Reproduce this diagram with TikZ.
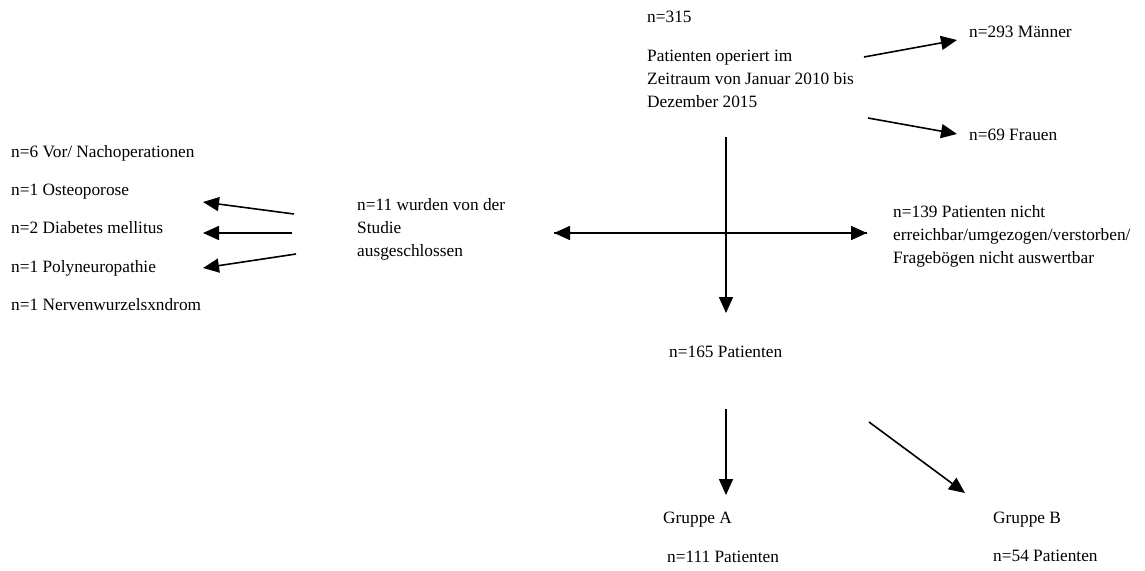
\documentclass[tikz,border=0pt]{standalone}
\usepackage{fontspec}
\setmainfont{Liberation Serif}
\usetikzlibrary{arrows.meta}

\tikzset{
  txt/.style={anchor=base west, inner sep=0pt, align=left,
    font=\fontsize{17.3}{22.8}\selectfont},
  arr/.style={line width=1.6pt, -{Triangle[length=16pt, width=14pt]}}
}

\begin{document}
\begin{tikzpicture}[x=1pt, y=-1pt]
    \useasboundingbox (0, 0) rectangle (1145, 570);

    \node[txt] (total) at (647, 23) {n=315};
    \node[txt] (zeitraum) at (647, 107)
      {Patienten operiert im\\Zeitraum von Januar 2010 bis\\Dezember 2015};
    \node[txt] (maenner) at (969, 37) {n=293 Männer};
    \node[txt] (frauen) at (969, 140) {n=69 Frauen};

    \node[txt] (ausgeschl) at (357, 256)
      {n=11 wurden von der\\Studie\\ausgeschlossen};
    \node[txt] (nicht) at (893, 263)
      {n=139 Patienten nicht\\erreichbar/umgezogen/verstorben/\\Fragebögen nicht auswertbar};

    \node[txt] (vorop) at (11, 157) {n=6 Vor/ Nachoperationen};
    \node[txt] (osteo) at (11, 195) {n=1 Osteoporose};
    \node[txt] (diab) at (11, 233) {n=2 Diabetes mellitus};
    \node[txt] (poly) at (11, 272) {n=1 Polyneuropathie};
    \node[txt] (nerv) at (11, 310) {n=1 Nervenwurzelsxndrom};

    \node[txt] (pat165) at (669, 357) {n=165 Patienten};
    \node[txt] (grA) at (663, 523) {Gruppe A};
    \node[txt] (grAn) at (667, 562) {n=111 Patienten};
    \node[txt] (grB) at (993, 523) {Gruppe B};
    \node[txt] (grBn) at (993, 561) {n=54 Patienten};

    % arrow ends
    \coordinate (m0) at (864, 57);
    \coordinate (m1) at (957, 40);
    \coordinate (f0) at (868, 118);
    \coordinate (f1) at (957, 134);
    \coordinate (top) at (726, 137);
    \coordinate (down) at (726, 313);
    \coordinate (lend) at (554, 233);
    \coordinate (rend) at (867, 233);
    \coordinate (a0) at (294, 214);
    \coordinate (a1) at (203, 202);
    \coordinate (b0) at (292, 233);
    \coordinate (b1) at (203, 233);
    \coordinate (c0) at (296, 254);
    \coordinate (c1) at (203, 268);
    \coordinate (g0) at (726, 409);
    \coordinate (g1) at (726, 495);
    \coordinate (h0) at (869, 422);
    \coordinate (h1) at (965, 493);

    \draw[arr] (m0) -- (m1);
    \draw[arr] (f0) -- (f1);
    \draw[arr] (top) -- (down);
    \draw[arr] (lend) -- (rend);
    \draw[arr] (rend) -- (lend);
    \draw[arr] (a0) -- (a1);
    \draw[arr] (b0) -- (b1);
    \draw[arr] (c0) -- (c1);
    \draw[arr] (g0) -- (g1);
    \draw[arr] (h0) -- (h1);
  \end{tikzpicture}
\end{document}
